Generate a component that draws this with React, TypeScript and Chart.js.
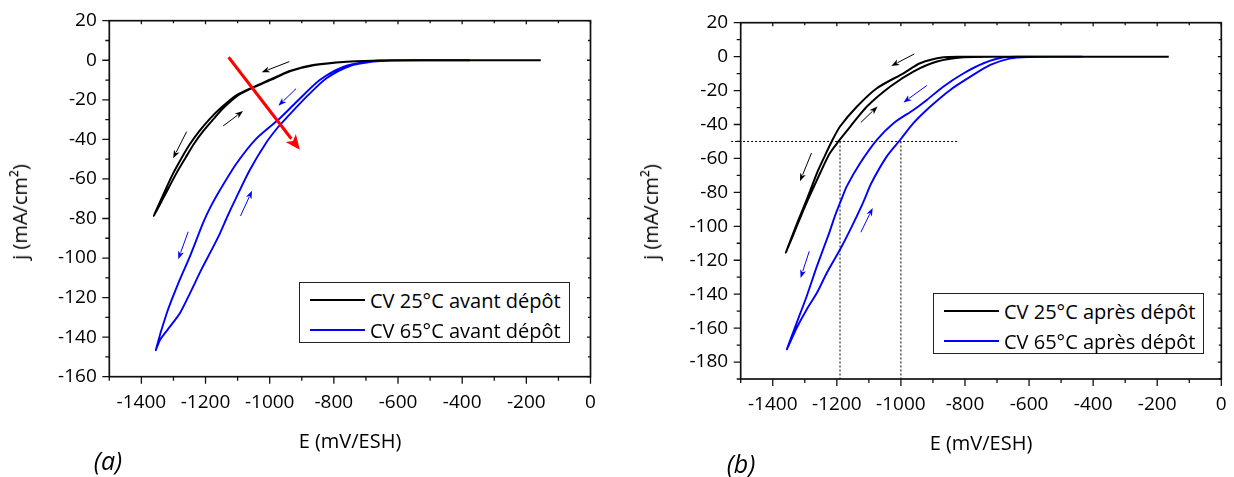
import React, { useEffect, useRef } from "react";
import { Chart, registerables } from "chart.js";
Chart.register(...registerables);

const FONT = "'Open Sans', 'DejaVu Sans', sans-serif";

// ---------------- Panel (a) : avant dépôt ----------------
// CV 25°C : cathodic branch (right -> left) then return branch (left -> right)
const aE25 = [-155, -400, -600, -680, -760, -865, -940, -989, -1050, -1103, -1150, -1186, -1220, -1249, -1275, -1301, -1330, -1361,
  -1324, -1291, -1263, -1237, -1208, -1174, -1142, -1098, -1047, -985, -935, -859, -760, -680, -600, -400, -155];
const aJ25 = [0, 0, -0.05, -0.2, -0.7, -2.4, -5.5, -9.1, -13.5, -17.6, -23.8, -29.5, -36, -42.5, -49.5, -57.2, -67.3, -78.7,
  -67.3, -57.2, -49.5, -42.5, -36, -29.5, -23.8, -17.6, -13.5, -9.1, -5.5, -2.4, -0.7, -0.2, -0.05, 0, 0];
// CV 65°C
const aE65 = [-376, -500, -600, -657, -698, -771, -844, -916, -968, -1041, -1103, -1155, -1184, -1207, -1249, -1285, -1321, -1355,
  -1342, -1311, -1280, -1249, -1212, -1181, -1155, -1132, -1108, -1062, -1010, -975, -947, -885, -823, -750, -678, -620, -500, -376];
const aJ65 = [0, 0, -0.05, -0.2, -0.7, -3.3, -10, -21, -29.3, -39.5, -52.1, -65.6, -74, -82, -99.3, -112.8, -127.9, -146.5,
  -141.4, -134.7, -127.9, -118, -105.5, -95.9, -87.5, -79, -70.7, -55.5, -41.5, -34, -29, -18.4, -9.1, -2.9, -0.7, -0.1, 0, 0];

// ---------------- Panel (b) : après dépôt ----------------
const bE25 = [-164, -400, -700, -800, -867, -940, -992, -1075, -1137, -1190, -1216, -1240, -1262, -1294, -1315, -1338, -1359,
  -1336, -1312, -1290, -1252, -1222, -1195, -1158, -1106, -1033, -961, -887, -804, -700, -400, -164];
const bJ25 = [0, 0, -0.05, -0.1, -0.4, -3.9, -9.8, -18.6, -29.4, -41.2, -50, -59.5, -68.6, -84.3, -94, -105, -115.6,
  -105, -94, -84.3, -68.6, -57, -50, -41.2, -29.4, -17.6, -8.8, -2.9, -0.4, -0.05, 0, 0];
const bE65 = [-434, -550, -620, -679, -742, -804, -867, -919, -961, -1023, -1075, -1127, -1169, -1186, -1206, -1224, -1262, -1294, -1325, -1356,
  -1325, -1294, -1262, -1231, -1190, -1153, -1118, -1092, -1044, -1002, -961, -908, -846, -783, -721, -658, -600, -500, -434];
const bJ65 = [0, 0, -0.1, -0.4, -3.9, -9.8, -17.6, -25.5, -31.4, -39.2, -49, -62.7, -76.5, -84.3, -94, -104, -123.5, -141.2, -156.8, -172.5,
  -159.8, -149, -139.2, -127.4, -113.7, -100, -86, -74.5, -58.8, -49, -39.2, -29.4, -19.6, -11.8, -4.9, -1, -0.2, 0, 0];

// Tick labels
const xTickValues = [-1400, -1200, -1000, -800, -600, -400, -200, 0];
const aYTickValues = [-160, -140, -120, -100, -80, -60, -40, -20, 0, 20];
const bYTickValues = [-180, -160, -140, -120, -100, -80, -60, -40, -20, 0, 20];

const aLabels = ["CV 25°C avant dépôt", "CV 65°C avant dépôt"];
const bLabels = ["CV 25°C après dépôt", "CV 65°C après dépôt"];

// Sweep-direction arrows (data coordinates)
const aArrowFromE = [-939, -1259, -1145, -918, -1091, -1254, -1128];
const aArrowFromJ = [-0.7, -36.1, -33.2, -14.4, -78.7, -86.7, 1.5];
const aArrowToE = [-1025, -1301, -1083, -973, -1055, -1285, -906];
const aArrowToJ = [-6.1, -49.6, -25.7, -23, -66, -100.6, -45.3];
const aArrowKind = ["k", "k", "k", "b", "b", "b", "r"];

const bArrowFromE = [-958, -1125, -1279, -919, -1125, -1286];
const bArrowFromJ = [1.6, -38.8, -56.8, -17, -103.5, -114.7];
const bArrowToE = [-1030, -1073, -1315, -992, -1088, -1313];
const bArrowToJ = [-5.5, -29.4, -73.5, -27, -89.2, -130.4];
const bArrowKind = ["k", "k", "k", "b", "b", "b"];

// Dotted reference lines in panel (b)
const bRefE0 = [-1530, -1190, -1000];
const bRefJ0 = [-50, -50, -50];
const bRefE1 = [-820, -1190, -1000];
const bRefJ1 = [-50, -190, -190];

const BLACK = "#000000";
const BLUE = "#0000ff";
const RED = "#ff0000";

type PanelProps = {
  x: number; y: number; w: number; h: number;
  area: { left: number; top: number; right: number; bottom: number };
  yMin: number; yMax: number; yTicks: number[];
  e25: number[]; j25: number[]; e65: number[]; j65: number[];
  arrows: { fe: number[]; fj: number[]; te: number[]; tj: number[]; kind: string[] };
  refs?: { e0: number[]; j0: number[]; e1: number[]; j1: number[] };
};

function drawArrow(ctx: CanvasRenderingContext2D, x0: number, y0: number, x1: number, y1: number,
  color: string, lw: number, hl: number, hw: number) {
  const a = Math.atan2(y1 - y0, x1 - x0);
  const c = Math.cos(a), s = Math.sin(a);
  const bx = x1 - hl * c, by = y1 - hl * s;
  ctx.save();
  ctx.strokeStyle = color; ctx.fillStyle = color; ctx.lineWidth = lw; ctx.lineCap = "butt";
  ctx.beginPath(); ctx.moveTo(x0, y0); ctx.lineTo(bx + c * 1, by + s * 1); ctx.stroke();
  ctx.beginPath();
  ctx.moveTo(x1, y1);
  ctx.lineTo(bx - hw * s, by + hw * c);
  ctx.lineTo(bx + c * hl * 0.25, by + s * hl * 0.25);
  ctx.lineTo(bx + hw * s, by - hw * c);
  ctx.closePath(); ctx.fill();
  ctx.restore();
}

function Panel(p: PanelProps) {
  const ref = useRef<HTMLCanvasElement>(null);
  useEffect(() => {
    const canvas = ref.current!;
    const deco = {
      id: "deco",
      beforeDatasetsDraw(chart: any) {
        if (!p.refs) return;
        const ctx = chart.ctx as CanvasRenderingContext2D;
        const xs = chart.scales.x, ys = chart.scales.y;
        ctx.save();
        ctx.strokeStyle = "#000"; ctx.lineWidth = 1; ctx.setLineDash([2, 2]);
        for (let i = 0; i < p.refs.e0.length; i++) {
          ctx.beginPath();
          ctx.moveTo(xs.getPixelForValue(p.refs.e0[i]), ys.getPixelForValue(p.refs.j0[i]));
          ctx.lineTo(xs.getPixelForValue(p.refs.e1[i]), ys.getPixelForValue(p.refs.j1[i]));
          ctx.stroke();
        }
        ctx.restore();
      },
      afterDatasetsDraw(chart: any) {
        const ctx = chart.ctx as CanvasRenderingContext2D;
        const { left, top, right, bottom } = chart.chartArea;
        const xs = chart.scales.x, ys = chart.scales.y;
        ctx.save();
        ctx.strokeStyle = "#111"; ctx.lineWidth = 1.7;
        ctx.strokeRect(left, top, right - left, bottom - top);
        ctx.lineWidth = 1.3;
        ctx.beginPath();
        for (let v = -1500; v <= 0; v += 100) {
          const px = xs.getPixelForValue(v);
          const major = v % 200 === 0;
          ctx.moveTo(px, bottom); ctx.lineTo(px, bottom + (major ? 7 : 4));
          ctx.moveTo(px, top); ctx.lineTo(px, top + (major ? 3.5 : 2.5));
        }
        for (let v = p.yMin; v <= p.yMax; v += 10) {
          const py = ys.getPixelForValue(v);
          const major = v % 20 === 0;
          ctx.moveTo(left - (major ? 7 : 4), py); ctx.lineTo(left, py);
          ctx.moveTo(right, py); ctx.lineTo(right - (major ? 3.5 : 2.5), py);
        }
        ctx.stroke();
        ctx.restore();
        const a = p.arrows;
        for (let i = 0; i < a.fe.length; i++) {
          const k = a.kind[i];
          const col = k === "k" ? BLACK : k === "b" ? BLUE : RED;
          const big = k === "r";
          drawArrow(ctx,
            xs.getPixelForValue(a.fe[i]), ys.getPixelForValue(a.fj[i]),
            xs.getPixelForValue(a.te[i]), ys.getPixelForValue(a.tj[i]),
            col, big ? 3 : 1, big ? 15 : 8, big ? 6.5 : 3);
        }
      },
    };
    const mk = (E: number[], J: number[], color: string, w: number) => ({
      data: E.map((e, i) => ({ x: e, y: J[i] })),
      borderColor: color, backgroundColor: color, borderWidth: w,
      pointRadius: 0, showLine: true, tension: 0.25, fill: false,
    });
    const chart = new Chart(canvas, {
      type: "scatter",
      data: { datasets: [mk(p.e25, p.j25, BLACK, 2), mk(p.e65, p.j65, BLUE, 1.9)] as any },
      options: {
        animation: false, responsive: false, devicePixelRatio: 1,
        layout: { padding: { left: 0, top: p.area.top, right: p.w - p.area.right, bottom: 0 } },
        plugins: { legend: { display: false }, tooltip: { enabled: false } },
        scales: {
          x: {
            type: "linear", min: -1500, max: 0,
            afterFit: (s: any) => { s.height = p.h - p.area.bottom; },
            afterBuildTicks: (s: any) => { s.ticks = xTickValues.map((v) => ({ value: v })); },
            grid: { display: false, tickLength: 8 }, border: { display: false },
            ticks: { color: "#000", font: { family: FONT, size: 19 }, padding: 6.5, maxRotation: 0, autoSkip: false, callback: (v: any) => String(v) },
          },
          y: {
            type: "linear", min: p.yMin, max: p.yMax,
            afterFit: (s: any) => { s.width = p.area.left; },
            afterBuildTicks: (s: any) => { s.ticks = p.yTicks.map((v) => ({ value: v })); },
            grid: { display: false, tickLength: 8 }, border: { display: false },
            ticks: { color: "#000", font: { family: FONT, size: 19 }, padding: 4.5, autoSkip: false, callback: (v: any) => String(v) },
          },
        },
      } as any,
      plugins: [deco],
    });
    return () => chart.destroy();
  }, []);
  return <canvas ref={ref} width={p.w} height={p.h}
    style={{ position: "absolute", left: p.x, top: p.y, width: p.w, height: p.h }} />;
}

function Legend(props: { x: number; y: number; labels: string[] }) {
  const rows = [17, 47];
  const cols = [BLACK, BLUE];
  return (
    <div style={{ position: "absolute", left: props.x, top: props.y, width: 271, height: 61, border: "1px solid #222", boxSizing: "border-box", background: "#fff" }}>
      {props.labels.map((t, i) => (
        <React.Fragment key={i}>
          <div style={{ position: "absolute", left: 10, top: rows[i] - 1.5, width: 55, height: 2, background: cols[i] }} />
          <div style={{ position: "absolute", left: 70, top: rows[i] + 0.5, transform: "translateY(-50%)", fontSize: 20, lineHeight: 1, whiteSpace: "nowrap", fontFamily: FONT, color: "#000" }}>{t}</div>
        </React.Fragment>
      ))}
    </div>
  );
}

function Txt(props: { x: number; y: number; text: string; rot?: boolean; size?: number; italic?: boolean }) {
  return (
    <div style={{
      position: "absolute", left: props.x, top: props.y,
      transform: `translate(-50%,-50%)${props.rot ? " rotate(-90deg)" : ""}`,
      fontSize: props.size ?? 20, lineHeight: 1, whiteSpace: "nowrap", fontFamily: FONT,
      fontStyle: props.italic ? "italic" : "normal", color: "#000",
    }}>{props.text}</div>
  );
}

export default function App() {
  return (
    <div style={{ position: "absolute", left: 0, top: 0, width: 1234, height: 477, background: "#fff", overflow: "hidden" }}>
      <Panel x={0} y={0} w={617} h={477}
        area={{ left: 109.3, top: 20.7, right: 590.5, bottom: 376.7 }}
        yMin={-160} yMax={20} yTicks={aYTickValues}
        e25={aE25} j25={aJ25} e65={aE65} j65={aJ65}
        arrows={{ fe: aArrowFromE, fj: aArrowFromJ, te: aArrowToE, tj: aArrowToJ, kind: aArrowKind }} />
      <Panel x={617} y={0} w={617} h={477}
        area={{ left: 123.7, top: 22.7, right: 604.3, bottom: 379 }}
        yMin={-190} yMax={20} yTicks={bYTickValues}
        e25={bE25} j25={bJ25} e65={bE65} j65={bJ65}
        arrows={{ fe: bArrowFromE, fj: bArrowFromJ, te: bArrowToE, tj: bArrowToJ, kind: bArrowKind }}
        refs={{ e0: bRefE0, j0: bRefJ0, e1: bRefE1, j1: bRefJ1 }} />
      <Legend x={299} y={282} labels={aLabels} />
      <Legend x={933} y={293} labels={bLabels} />
      <Txt x={350} y={441} text="E (mV/ESH)" />
      <Txt x={981} y={443} text="E (mV/ESH)" />
      <Txt x={20} y={212} text="j (mA/cm²)" rot />
      <Txt x={651} y={212} text="j (mA/cm²)" rot />
      <Txt x={108} y={460} text="(a)" size={25} italic />
      <Txt x={741} y={463} text="(b)" size={25} italic />
    </div>
  );
}
